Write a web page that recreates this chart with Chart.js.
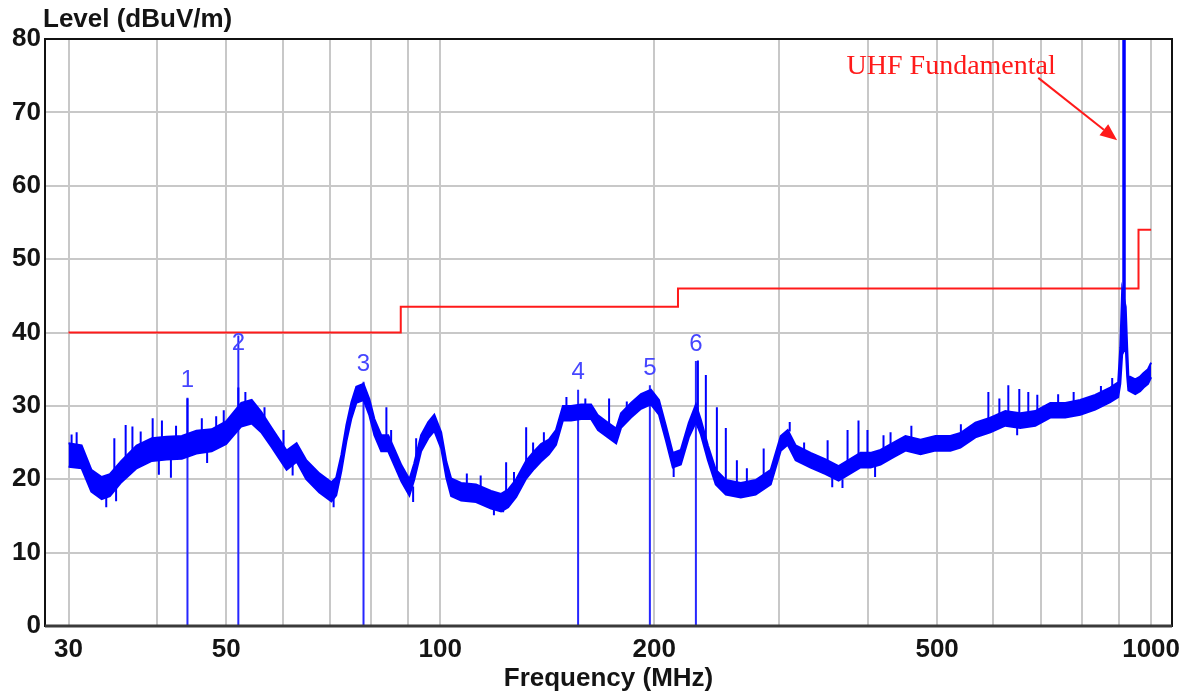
<!DOCTYPE html>
<html>
<head>
<meta charset="utf-8">
<script src="https://cdn.jsdelivr.net/npm/chart.js@4.4.0/dist/chart.umd.min.js"></script>
<style>
  html, body { margin: 0; padding: 0; background: #fff; }
  #wrap { width: 1192px; height: 694px; }
</style>
</head>
<body>
<div id="wrap"><canvas id="chart1" width="1192" height="694"></canvas></div>
<script>
"use strict";

// noise band of the sweep: frequency (MHz), lower and upper edge (dBuV/m)
var traceFreq = [30.0, 31.3, 32.3, 33.4, 34.3, 35.6, 37.4, 39.3, 41.2, 43.3,
  45.4, 47.7, 50.0, 52.5, 54.3, 56.0, 57.9, 60.8, 62.8, 64.8,
  67.6, 70.3, 71.4, 72.6, 73.8, 75.0, 76.2, 78.0, 79.5, 80.8,
  82.6, 84.5, 86.2, 88.2, 90.5, 91.9, 94.0, 96.2, 98.1, 100.3,
  102.0, 103.6, 107.0, 112.3, 117.9, 121.8, 124.6, 127.9, 132.1, 135.5,
  138.6, 142.2, 145.5, 148.8, 152.8, 157.8, 163.0, 166.7, 172.2, 176.8,
  179.6, 185.5, 191.6, 197.9, 203.1, 207.7, 212.4, 218.0, 223.7, 228.9,
  232.6, 238.0, 244.1, 252.2, 264.7, 277.8, 291.7, 301.3, 308.2, 316.2,
  331.9, 348.4, 363.4, 390.2, 403.0, 416.3, 434.2, 451.3, 473.8, 497.3,
  522.0, 539.2, 566.0, 594.1, 623.6, 654.6, 687.2, 721.4, 757.2, 794.9,
  834.4, 875.9, 898.8, 905.0, 910.5, 921.0, 925.4, 929.0, 950.0, 965.1,
  976.0, 990.0, 1000.0];
var traceLow = [21.7, 21.5, 18.3, 17.3, 17.7, 19.6, 21.5, 22.5, 22.7, 22.8,
  23.5, 23.8, 24.8, 27.2, 27.6, 26.4, 24.4, 21.3, 22.4, 20.0,
  18.2, 17.0, 17.8, 21.1, 25.2, 28.3, 30.4, 30.8, 28.7, 26.0,
  23.8, 23.8, 21.9, 19.7, 17.8, 19.9, 23.8, 25.6, 26.6, 24.2,
  20.2, 17.7, 17.1, 16.9, 16.0, 15.6, 16.2, 17.6, 20.1, 21.4,
  22.4, 23.4, 24.7, 28.0, 28.0, 28.2, 28.2, 26.7, 25.7, 24.9,
  27.0, 28.4, 29.6, 30.2, 28.8, 25.3, 21.6, 22.0, 25.7, 27.8,
  26.1, 22.6, 19.3, 17.9, 17.5, 17.9, 19.3, 23.9, 24.7, 22.6,
  21.6, 20.7, 19.8, 21.6, 21.6, 22.0, 23.0, 23.9, 23.4, 23.9,
  23.9, 24.3, 25.7, 26.4, 27.3, 27.0, 27.3, 28.4, 28.4, 28.8,
  29.5, 30.5, 31.2, 33.0, 37.0, 38.0, 34.0, 32.1, 31.6, 32.0,
  32.5, 33.0, 33.9];
var traceHigh = [24.9, 24.6, 21.3, 20.3, 20.7, 22.5, 24.6, 25.6, 25.8, 25.9,
  26.6, 26.8, 27.9, 30.4, 30.8, 29.2, 27.0, 23.9, 24.9, 22.6,
  20.8, 19.6, 20.2, 23.3, 27.4, 30.5, 32.6, 33.0, 30.9, 28.2,
  26.0, 26.0, 24.1, 21.9, 20.0, 22.1, 26.0, 27.8, 28.8, 26.4,
  22.4, 20.1, 19.5, 19.3, 18.4, 18.0, 18.6, 20.0, 22.5, 23.8,
  24.8, 25.4, 26.7, 30.0, 30.0, 30.2, 30.2, 28.7, 27.7, 26.9,
  29.0, 30.4, 31.6, 32.2, 30.8, 27.3, 23.6, 24.0, 27.7, 30.2,
  28.1, 24.6, 21.3, 19.9, 19.5, 19.9, 21.3, 25.9, 26.7, 24.6,
  23.6, 22.7, 21.8, 23.6, 23.6, 24.0, 25.0, 25.9, 25.4, 25.9,
  25.9, 26.3, 27.7, 28.4, 29.3, 29.0, 29.3, 30.4, 30.4, 30.8,
  31.5, 32.5, 33.2, 38.0, 45.8, 43.5, 38.0, 34.1, 33.6, 34.0,
  34.5, 35.0, 35.9];

// narrow spikes sticking out of the band (from band edge to tip)
var spikeFreq = [30.3, 30.8, 33.9, 34.8, 35.0, 36.1, 36.9, 37.9, 39.4, 40.2,
  40.6, 41.8, 42.5, 44.1, 46.2, 47.0, 48.4, 49.6, 52.0, 53.2,
  56.6, 60.2, 62.0, 70.8, 84.0, 85.3, 91.6, 92.5, 109.0, 114.0,
  119.0, 122.6, 123.8, 127.0, 132.1, 135.1, 139.9, 150.5, 160.0, 172.8,
  183.0, 213.0, 230.4, 236.4, 245.0, 252.2, 261.4, 270.0, 285.1, 310.2,
  325.0, 350.7, 356.0, 368.0, 374.1, 387.6, 399.0, 409.0, 420.3, 430.0,
  460.0, 540.0, 590.3, 611.7, 629.7, 648.0, 652.5, 671.8, 691.7, 740.0,
  778.1, 850.0, 881.6];
var spikeBase = [23.0, 23.0, 18.0, 20.5, 19.0, 22.0, 22.5, 23.0, 25.0, 23.0,
  25.0, 22.7, 25.5, 25.5, 26.5, 24.0, 26.5, 27.0, 28.5, 30.0,
  28.5, 23.5, 22.0, 18.0, 25.5, 25.0, 19.0, 21.5, 19.0, 18.0,
  17.0, 16.5, 18.0, 19.0, 22.0, 23.0, 24.5, 29.5, 29.5, 27.5,
  28.5, 21.8, 28.0, 25.0, 21.0, 19.5, 19.4, 18.5, 20.5, 26.5,
  23.0, 22.5, 20.8, 20.0, 22.0, 23.0, 23.5, 21.8, 23.5, 24.5,
  25.5, 26.0, 28.0, 28.5, 29.0, 27.2, 28.8, 29.0, 29.0, 30.0,
  30.0, 31.0, 32.0];
var spikeTop = [26.1, 26.4, 16.2, 25.6, 17.0, 27.4, 27.2, 26.5, 28.3, 20.6,
  28.0, 20.2, 27.3, 31.0, 28.3, 22.2, 28.6, 29.4, 32.5, 31.9,
  29.8, 26.7, 20.5, 16.2, 29.8, 26.7, 16.9, 25.6, 20.8, 20.5,
  15.1, 15.5, 22.3, 21.0, 27.1, 25.0, 26.4, 31.2, 31.0, 31.0,
  30.6, 20.3, 36.2, 34.2, 29.8, 27.0, 22.6, 21.5, 24.2, 27.8,
  25.0, 25.3, 18.9, 18.8, 26.7, 28.0, 26.7, 20.3, 26.0, 26.4,
  27.3, 27.5, 31.9, 31.0, 32.8, 26.0, 32.3, 31.9, 31.5, 31.6,
  31.9, 32.7, 33.8];

// numbered markers
var markerNames = ['1', '2', '3', '4', '5', '6'];
var markerFreq = [44.1, 52.0, 78.0, 156.3, 197.2, 228.9];
var markerLevel = [31.1, 39.6, 33.3, 32.2, 32.8, 36.1];

// UHF carrier, runs off the top of the plot
var fundFreq = [916];
var fundBase = [44];
var fundTop = [100];

// limit line (steps up at each frequency)
var limitFreq = [30, 88, 216, 960, 1000];
var limitLevel = [40, 43.5, 46, 54, 54];

var gridFreq = [30, 40, 50, 60, 70, 80, 90, 100, 200, 300, 400, 500, 600, 700, 800, 900, 1000];
var freqLabels = [30, 50, 100, 200, 500, 1000];

var noteText = 'UHF Fundamental';
var noteAt = [372.9, 76.3];
var arrowFrom = [693.9, 74.7];
var arrowTo = [895.9, 66.2];

var BLUE = '#0000ff';
var RED = '#ff1a1a';
var SANS = '"Liberation Sans", Arial, sans-serif';

function points(xs, ys) {
  return xs.map(function (x, i) { return { x: x, y: ys[i] }; });
}

function sticks(xs, lo, hi) {
  var out = [];
  xs.forEach(function (x, i) {
    out.push({ x: x, y: lo[i] }, { x: x, y: hi[i] }, { x: x, y: null });
  });
  return out;
}

function limitAt(f) {
  var v = limitLevel[0];
  for (var i = 0; i < limitFreq.length; i++) {
    if (limitFreq[i] <= f) v = limitLevel[i];
  }
  return v;
}

var extras = {
  id: 'extras',
  afterDatasetsDraw: function (chart) {
    var ctx = chart.ctx, a = chart.chartArea;
    var xs = chart.scales.x, ys = chart.scales.y;
    ctx.save();

    // marker numbers
    ctx.fillStyle = '#4646ff';
    ctx.font = '24px ' + SANS;
    ctx.textAlign = 'center';
    ctx.textBaseline = 'middle';
    markerFreq.forEach(function (f, i) {
      var px = xs.getPixelForValue(f);
      var py = ys.getPixelForValue(markerLevel[i]) - 17;
      py = Math.max(py, ys.getPixelForValue(limitAt(f)) + 11);
      ctx.fillText(markerNames[i], px, py);
    });

    // annotation
    ctx.fillStyle = RED;
    ctx.strokeStyle = RED;
    ctx.font = '28px "Liberation Serif", "Times New Roman", serif';
    ctx.textAlign = 'left';
    ctx.fillText(noteText, xs.getPixelForValue(noteAt[0]), ys.getPixelForValue(noteAt[1]));
    var x0 = xs.getPixelForValue(arrowFrom[0]), y0 = ys.getPixelForValue(arrowFrom[1]);
    var x1 = xs.getPixelForValue(arrowTo[0]), y1 = ys.getPixelForValue(arrowTo[1]);
    var ang = Math.atan2(y1 - y0, x1 - x0);
    var hl = 17, hw = 7;
    var bx = x1 - hl * Math.cos(ang), by = y1 - hl * Math.sin(ang);
    ctx.lineWidth = 2;
    ctx.beginPath();
    ctx.moveTo(x0, y0);
    ctx.lineTo(bx, by);
    ctx.stroke();
    ctx.beginPath();
    ctx.moveTo(x1, y1);
    ctx.lineTo(bx + hw * Math.sin(ang), by - hw * Math.cos(ang));
    ctx.lineTo(bx - hw * Math.sin(ang), by + hw * Math.cos(ang));
    ctx.closePath();
    ctx.fill();

    // frame
    ctx.strokeStyle = '#111';
    ctx.lineWidth = 2;
    ctx.strokeRect(a.left, a.top, a.right - a.left, a.bottom - a.top);
    ctx.strokeStyle = '#3a3a3a';
    ctx.lineWidth = 3;
    ctx.beginPath();
    ctx.moveTo(a.left, a.bottom);
    ctx.lineTo(a.right, a.bottom);
    ctx.stroke();

    // y title
    ctx.fillStyle = '#141414';
    ctx.font = 'bold 26px ' + SANS;
    ctx.textAlign = 'left';
    ctx.fillText('Level (dBuV/m)', a.left - 2, 20);
    ctx.restore();
  }
};

var ctx = document.getElementById('chart1').getContext('2d');

var myChart = new Chart(ctx, {
  type: 'line',
  data: {
    datasets: [{
      label: 'band low',
      data: points(traceFreq, traceLow),
      borderColor: BLUE,
      borderWidth: 2,
      pointRadius: 0,
      fill: false
    },
    {
      label: 'band high',
      data: points(traceFreq, traceHigh),
      borderColor: BLUE,
      backgroundColor: BLUE,
      borderWidth: 2,
      pointRadius: 0,
      fill: '-1'
    },
    {
      label: 'spikes',
      data: sticks(spikeFreq, spikeBase, spikeTop),
      borderColor: BLUE,
      borderWidth: 2,
      pointRadius: 0,
      fill: false
    },
    {
      label: 'markers',
      data: sticks(markerFreq, markerFreq.map(function () { return 0; }), markerLevel),
      borderColor: '#2626ff',
      borderWidth: 2,
      pointRadius: 0,
      fill: false
    },
    {
      label: 'fundamental',
      data: sticks(fundFreq, fundBase, fundTop),
      borderColor: BLUE,
      borderWidth: 3.5,
      pointRadius: 0,
      fill: false
    },
    {
      label: 'limit',
      data: points(limitFreq, limitLevel),
      borderColor: RED,
      borderWidth: 2,
      pointRadius: 0,
      stepped: true,
      fill: false,
      order: 1
    }]
  },
  options: {
    responsive: false,
    animation: false,
    events: [],
    layout: {
      padding: { top: 39, right: 20, left: 0, bottom: 0 }
    },
    plugins: {
      legend: { display: false },
      tooltip: { enabled: false }
    },
    scales: {
      x: {
        type: 'logarithmic',
        min: 27.8,
        max: 1070,
        afterBuildTicks: function (scale) {
          scale.ticks = gridFreq.map(function (v) { return { value: v }; });
        },
        afterFit: function (scale) { scale.height = 68; },
        ticks: {
          autoSkip: false,
          maxRotation: 0,
          padding: 8,
          color: '#141414',
          font: { family: SANS, size: 26, weight: 'bold' },
          callback: function (value) {
            return freqLabels.indexOf(value) >= 0 ? String(value) : '';
          }
        },
        grid: {
          color: '#c8c8c8',
          lineWidth: 2,
          drawTicks: false
        },
        border: { display: false },
        title: {
          display: true,
          text: 'Frequency (MHz)',
          color: '#141414',
          padding: 0,
          font: { family: SANS, size: 26, weight: 'bold' }
        }
      },
      y: {
        min: 0,
        max: 80,
        afterFit: function (scale) { scale.width = 45; },
        ticks: {
          stepSize: 10,
          padding: 4,
          color: '#141414',
          font: { family: SANS, size: 26, weight: 'bold' }
        },
        grid: {
          color: '#c8c8c8',
          lineWidth: 2,
          drawTicks: false
        },
        border: { display: false }
      }
    }
  },
  plugins: [extras]
});
</script>
</body>
</html>
